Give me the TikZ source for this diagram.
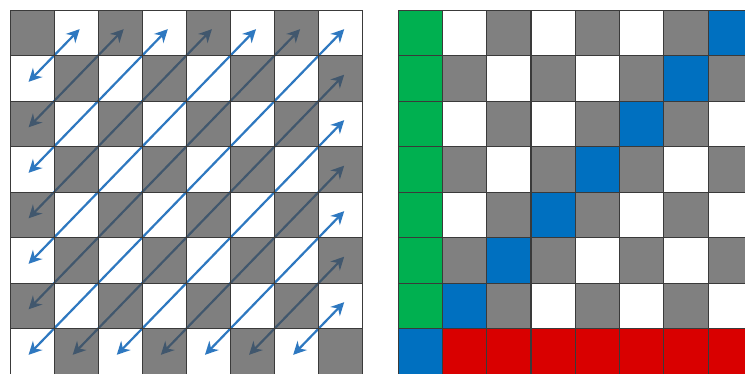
\documentclass[tikz,border=0pt]{standalone}
\usepackage{xcolor}
\usetikzlibrary{arrows.meta, backgrounds}
\definecolor{gridline}{HTML}{3A3A3A}
\definecolor{shade}{HTML}{4A4A4A}
\definecolor{solidgray}{HTML}{808080}
\definecolor{green}{HTML}{00B050}
\definecolor{blue}{HTML}{0070C0}
\definecolor{red}{HTML}{D90000}
\definecolor{arrowblue}{HTML}{2E78C0}
\tikzset{
  cell/.style={
    rectangle, draw=gridline, line width=0.9pt,
    minimum width=44.2pt, minimum height=45.5pt,
    inner sep=0pt, outer sep=0pt
  },
  whitecell/.style={cell},
  graycell/.style={cell, fill=shade, fill opacity=0.7},
  solidcell/.style={cell, fill=solidgray},
  greencell/.style={cell, fill=green},
  bluecell/.style={cell, fill=blue},
  redcell/.style={cell, fill=red},
  diag/.style={{Stealth[length=13pt,width=13pt]}-{Stealth[length=13pt,width=13pt]},
    line width=2.2pt, draw=arrowblue, shorten <=-5pt, shorten >=-5pt},
}

\begin{document}
\begin{tikzpicture}[x=1pt, y=1pt]
  \useasboundingbox (0,0) rectangle (745,374);
  \clip (0,0) rectangle (745,374);

  \foreach \r in {0,...,7}
    \foreach \c in {0,...,7} {
      \ifodd\numexpr\r+\c\relax \def\kind{whitecell}\else\def\kind{graycell}\fi
      \node[\kind] (L-\r-\c) at ({10+44.1*(\c+0.5)}, {364-45.5*(\r+0.5)}) {};
    }

  \foreach \r in {0,...,7}
    \foreach \c in {0,...,7} {
      \ifnum\r=7
        \ifnum\c=0 \def\kind{bluecell}\else\def\kind{redcell}\fi
      \else\ifnum\c=0 \def\kind{greencell}
      \else\ifnum\numexpr\r+\c\relax=7 \def\kind{bluecell}
      \else\ifodd\numexpr\r+\c\relax \def\kind{whitecell}\else\def\kind{solidcell}\fi
      \fi\fi\fi
      \node[\kind] (R-\r-\c) at ({398+44.3*(\c+0.5)}, {364-45.5*(\r+0.5)}) {};
    }

  \begin{scope}[on background layer]
    \fill[white] (0,0) rectangle (745,374);
    \foreach \m in {1,...,13} {
      \pgfmathtruncatemacro\a{min(\m,7)}
      \pgfmathtruncatemacro\b{max(\m-7,0)}
      \draw[diag] (L-\a-\b.center) -- (L-\b-\a.center);
    }
  \end{scope}
\end{tikzpicture}
\end{document}
